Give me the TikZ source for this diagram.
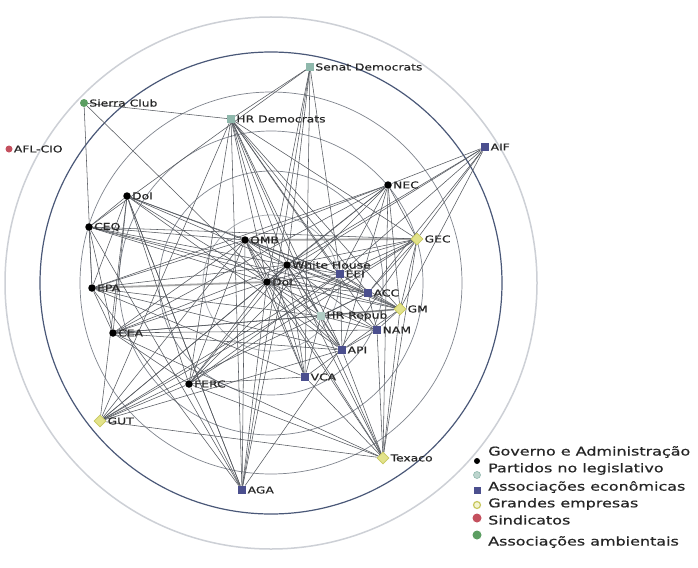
\documentclass[tikz,border=0pt]{standalone}
\usepackage{fontspec}
\usetikzlibrary{shapes.geometric,backgrounds}
\newfontfamily\lblfont[FakeStretch=1.3,FakeBold=0.4]{DejaVu Sans}
\newfontfamily\legfont[FakeStretch=1.33,FakeBold=0.7]{DejaVu Sans}
\definecolor{partyc}{HTML}{8FB8AC}
\definecolor{econc}{HTML}{4B4F8E}
\definecolor{firmc}{HTML}{E3E38A}
\definecolor{firmd}{HTML}{C8C860}
\definecolor{unionc}{HTML}{C4505E}
\definecolor{envc}{HTML}{5C9E62}
\definecolor{ringdark}{HTML}{4A5878}
\definecolor{ringgray}{HTML}{80858E}
\definecolor{ringlight}{HTML}{CDD0D6}
\definecolor{edgec}{HTML}{55595F}
\tikzset{
  gov/.style={circle,fill=black,inner sep=0,minimum size=7.5pt},
  party/.style={rectangle,fill=partyc,inner sep=0,minimum size=8pt},
  econ/.style={rectangle,fill=econc,inner sep=0,minimum size=8.5pt},
  firm/.style={diamond,fill=firmc,draw=firmd,line width=0.8pt,inner sep=0,minimum size=12pt},
  unionnode/.style={circle,fill=unionc,inner sep=0,minimum size=7pt},
  envnode/.style={circle,fill=envc,inner sep=0,minimum size=8pt},
  lbl/.style={font=\lblfont\fontsize{9.5}{11}\selectfont,text=black!85,inner sep=1pt},
  leg/.style={font=\legfont\fontsize{12}{13}\selectfont,text=black!85,anchor=west,inner sep=0},
  edge/.style={draw=edgec,line width=0.55pt},
  thickedge/.style={draw=gray!70,line width=1.8pt},
  ringd/.style={draw=ringdark,line width=1.2pt},
  ringg/.style={draw=ringgray,line width=0.7pt},
  ringl/.style={draw=ringlight,line width=1.5pt}
}
\begin{document}
\begin{tikzpicture}[x=1pt,y=-1pt]
\useasboundingbox (0,0) rectangle (698,567);
% nodes
\node[party,label={[lbl]right:Senat Democrats}] (sd) at (310,67) {};
\node[envnode,label={[lbl]right:Sierra Club}] (sc) at (84,103) {};
\node[party,label={[lbl]right:HR Democrats}] (hrd) at (231,119) {};
\node[unionnode,label={[lbl]right:AFL-CIO}] (afl) at (9,149) {};
\node[econ,label={[lbl]right:AIF}] (aif) at (485,147) {};
\node[gov,label={[lbl]right:NEC}] (nec) at (388,185) {};
\node[gov,label={[lbl]right:DoI}] (doi) at (127,196) {};
\node[gov,label={[lbl]right:CEQ}] (ceq) at (89,227) {};
\node[firm,label={[lbl]right:GEC}] (gec) at (417,239) {};
\node[gov,label={[lbl]right:OMB}] (omb) at (245,240) {};
\node[gov,label={[lbl]right:White House}] (wh) at (287,265) {};
\node[econ,label={[lbl]right:EEI}] (eei) at (340,274) {};
\node[gov,label={[lbl]right:DoL}] (dol) at (267,282) {};
\node[econ,label={[lbl]right:ACC}] (acc) at (368,293) {};
\node[firm,label={[lbl]right:GM}] (gm) at (400,309) {};
\node[party,fill=partyc!70,label={[lbl]right:HR Repub}] (hrr) at (321,316) {};
\node[gov,label={[lbl]right:EPA}] (epa) at (92,288) {};
\node[econ,label={[lbl]right:NAM}] (nam) at (377,330) {};
\node[gov,label={[lbl]right:CEA}] (cea) at (113,333) {};
\node[econ,label={[lbl]right:API}] (api) at (342,350) {};
\node[econ,label={[lbl]right:VCA}] (vca) at (305,377) {};
\node[gov,label={[lbl]right:FERC}] (ferc) at (189,384) {};
\node[firm,label={[lbl]right:GUT}] (gut) at (100,421) {};
\node[firm,label={[lbl]right:Texaco}] (tex) at (383,458) {};
\node[econ,label={[lbl]right:AGA}] (aga) at (242,490) {};
\begin{pgfonlayer}{background}
\fill[white] (0,0) rectangle (698,567);
\coordinate (ctr) at (271,283);
\draw[ringl] (ctr) circle[radius=266pt];
\draw[ringd] (ctr) circle[radius=231pt];
\draw[ringg] (ctr) circle[radius=191pt];
\draw[ringg] (ctr) circle[radius=152pt];
\draw[ringg] (ctr) circle[radius=112pt];
\draw[ringg,draw=ringgray!70] (ctr) circle[radius=68pt];
\draw[thickedge] (epa) -- (dol);
\draw[thickedge] (omb) -- (gec);
\draw[thickedge] (hrr) -- (gm);
\foreach \a/\b in {sc/hrd,sc/epa,sc/dol,
  sd/hrd,sd/ceq,sd/dol,sd/wh,sd/vca,sd/aga,sd/eei,
  hrd/dol,hrd/wh,hrd/eei,hrd/acc,hrd/gm,hrd/nam,hrd/api,hrd/vca,hrd/tex,hrd/aga,hrd/ferc,hrd/gut,hrd/gec,
  aif/nec,aif/gec,aif/gm,aif/wh,aif/dol,aif/eei,aif/acc,
  nec/dol,nec/wh,nec/omb,nec/eei,nec/gec,nec/gm,nec/ferc,nec/cea,nec/epa,nec/api,
  gec/dol,gec/wh,gec/eei,gec/acc,gec/gm,gec/gut,gec/ceq,gec/ferc,gec/tex,gec/aga,
  doi/dol,doi/wh,doi/omb,doi/eei,doi/ceq,doi/cea,doi/ferc,doi/epa,doi/api,doi/aga,
  ceq/epa,ceq/cea,ceq/dol,ceq/wh,ceq/omb,ceq/acc,ceq/gm,
  epa/cea,epa/wh,epa/omb,epa/api,epa/vca,epa/hrr,
  cea/dol,cea/wh,cea/omb,cea/hrr,cea/nam,cea/ferc,cea/gm,cea/api,
  ferc/dol,ferc/wh,ferc/omb,ferc/eei,ferc/gut,ferc/aga,ferc/tex,ferc/vca,
  gut/dol,gut/wh,gut/omb,gut/eei,gut/acc,gut/doi,gut/api,
  aga/dol,aga/wh,aga/omb,aga/doi,aga/ceq,aga/epa,
  tex/dol,tex/wh,tex/omb,tex/vca,tex/api,tex/gm,tex/nam,tex/gut,tex/cea,tex/nec,
  dol/wh,dol/omb,omb/wh,dol/eei,dol/acc,dol/gm,dol/hrr,dol/nam,dol/api,dol/vca,
  wh/eei,wh/acc,wh/gm,wh/hrr,wh/nam,wh/api,wh/vca,
  omb/eei,omb/acc,omb/gm,omb/api,omb/vca,
  hrr/eei,hrr/acc,hrr/nam,hrr/api,hrr/vca,
  eei/acc,eei/gm,acc/gm,gm/nam,nam/api,api/vca,eei/api,acc/nam,gm/api}
  \draw[edge] (\a) -- (\b);
\end{pgfonlayer}
% legend
\node[gov,minimum size=6pt] (l1) at (477,461) {};
\node[leg] (t1) at (488,452) {Governo e Administração};
\node[circle,fill=partyc!60,draw=partyc,line width=0.6pt,inner sep=0,minimum size=7pt] (l2) at (477,475) {};
\node[leg] (t2) at (488,469) {Partidos no legislativo};
\node[econ,minimum size=7pt] (l3) at (477,490) {};
\node[leg] (t3) at (488,487) {Associações econômicas};
\node[circle,fill=firmc!40,draw=firmd,line width=1.2pt,inner sep=0,minimum size=7pt] (l4) at (477,505) {};
\node[leg] (t4) at (488,504) {Grandes empresas};
\node[unionnode,minimum size=9pt] (l5) at (477,518) {};
\node[leg] (t5) at (488,520) {Sindicatos};
\node[envnode,minimum size=9pt] (l6) at (477,535) {};
\node[leg] (t6) at (488,542) {Associações ambientais};
\end{tikzpicture}
\end{document}
